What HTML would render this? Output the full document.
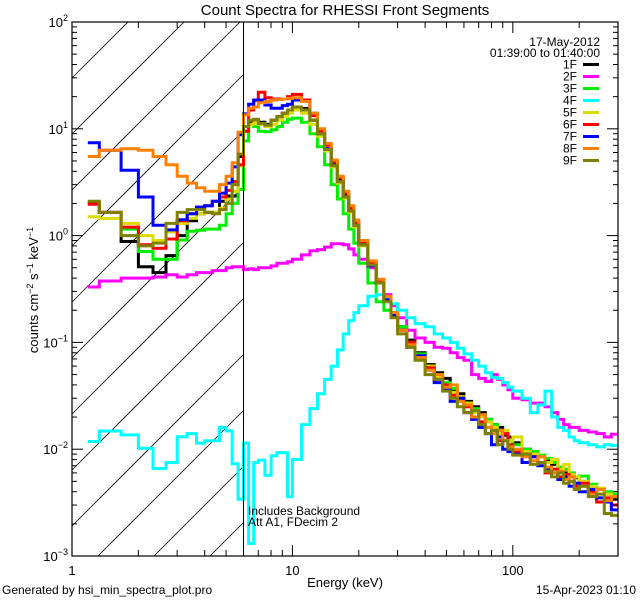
<!DOCTYPE html>
<html><head><meta charset="utf-8"><style>
html,body{margin:0;padding:0;width:640px;height:600px;overflow:hidden;background:#fff}
svg{display:block;font-family:"Liberation Sans",sans-serif}
</style></head><body>
<svg id="chart" width="640" height="600" viewBox="0 0 640 600">
<defs><clipPath id="plotclip"><rect x="72" y="22" width="546" height="534"/></clipPath></defs>
<rect x="0" y="0" width="640" height="600" fill="#fff"/>
<text x="345" y="15" text-anchor="middle" font-size="15">Count Spectra for RHESSI Front Segments</text>
<g id="hatch"></g>
<g id="series" clip-path="url(#plotclip)"></g>
<g id="axes"></g>
<text x="248" y="515" font-size="12">Includes Background</text>
<text x="248" y="526" font-size="12">Att A1, FDecim  2</text>
<text x="345" y="587" text-anchor="middle" font-size="13">Energy (keV)</text>
<text transform="translate(38,290) rotate(-90)" text-anchor="middle" font-size="13">counts cm<tspan dy="-5" font-size="9">−2</tspan><tspan dy="5"> s</tspan><tspan dy="-5" font-size="9">−1</tspan><tspan dy="5"> keV</tspan><tspan dy="-5" font-size="9">−1</tspan></text>
<text x="2" y="594" font-size="12">Generated by hsi_min_spectra_plot.pro</text>
<text x="636" y="594" text-anchor="end" font-size="12">15-Apr-2023 01:10</text>
<text x="600" y="46" text-anchor="end" font-size="12">17-May-2012</text>
<text x="600" y="57" text-anchor="end" font-size="12">01:39:00 to 01:40:00</text>
<g id="legend"></g>
</svg>
<script>
const edges=[1.18,1.33,1.67,2,2.33,2.67,3,3.33,3.67,4,4.33,4.67,5,5.33,5.67,6,6.33,6.67,7,7.5,8,8.5,9,9.5,10,11,12,13,14,15,16,17,18,19,20,22,24,26,28,30,33,36,40,44,48,52,56,60,65,70,75,80,85,90,95,100,110,120,130,140,150,160,170,180,190,200,220,240,260,280,300];
const seriesNames=["1F","2F","3F","4F","5F","6F","7F","8F","9F"];
const seriesColors=["#000000","#ff00ff","#00ee00","#00ffff","#dcdc00","#ff0000","#0000ff","#ff8000","#808000"];
const s1F=[2.03,1.65,0.88,0.51,0.45,0.65,1.0,1.38,1.6,1.65,1.65,2.1,2.35,2.35,5.5,10.5,11.4,12,11.5,11,12,13,14,15,16,15.5,12,9,6.5,4.6,3.3,2.4,1.75,1.3,0.85,0.55,0.38,0.26,0.19,0.14,0.105,0.08,0.062,0.052,0.046,0.036,0.033,0.028,0.025,0.022,0.019,0.017,0.016,0.0135,0.013,0.0115,0.01,0.0095,0.0086,0.0078,0.0072,0.0066,0.006,0.0058,0.0054,0.005,0.0046,0.0042,0.0038,0.0034];
const s2F=[0.33,0.376,0.4,0.4,0.41,0.43,0.41,0.43,0.45,0.45,0.47,0.47,0.5,0.51,0.51,0.48,0.49,0.48,0.5,0.5,0.52,0.55,0.55,0.57,0.6,0.66,0.72,0.74,0.78,0.84,0.84,0.82,0.75,0.66,0.6,0.5,0.38,0.28,0.22,0.17,0.13,0.11,0.1,0.09,0.088,0.08,0.072,0.068,0.05,0.046,0.043,0.05,0.045,0.04,0.036,0.03,0.029,0.027,0.027,0.025,0.022,0.019,0.017,0.016,0.016,0.015,0.0145,0.014,0.013,0.0138];
const s3F=[null,null,1.15,0.71,0.6,0.6,0.91,1.1,1.12,1.15,1.15,1.25,1.6,2.0,2.7,7.7,10.9,10.5,9.5,9.4,9.8,10.5,11.5,12.3,12.6,11.5,9,6.8,4.6,3.0,2.2,1.6,1.15,0.85,0.55,0.36,0.24,0.2,0.19,0.14,0.1,0.078,0.06,0.05,0.042,0.037,0.03,0.027,0.024,0.02,0.019,0.017,0.015,0.014,0.012,0.011,0.01,0.0095,0.0088,0.0082,0.0075,0.0068,0.0065,0.006,0.0055,0.0056,0.0047,0.0042,0.004,0.0038];
const s4F=[0.0118,0.0148,0.0136,0.0102,0.0066,0.0075,0.0131,0.014,0.0114,0.012,0.012,0.016,0.0148,0.0073,0.0034,0.0114,0.00131,0.0075,0.0079,0.0057,0.0087,0.0093,0.0093,0.0036,0.008,0.017,0.024,0.033,0.045,0.06,0.085,0.12,0.16,0.19,0.22,0.27,0.28,0.26,0.23,0.2,0.17,0.15,0.14,0.12,0.11,0.1,0.088,0.078,0.068,0.06,0.052,0.047,0.046,0.042,0.038,0.035,0.03,0.022,0.026,0.035,0.02,0.016,0.015,0.013,0.012,0.0115,0.011,0.0105,0.011,0.0108];
const s5F=[1.5,1.45,1.3,1.0,0.9,1.08,1.3,1.45,1.6,1.65,1.65,1.8,2.2,2.6,4.5,9.5,11,11.5,11,10.5,11,12,13,14,15,14,11,8.5,6.2,4.4,3.1,2.25,1.65,1.2,0.8,0.52,0.36,0.25,0.18,0.13,0.1,0.075,0.06,0.048,0.04,0.034,0.031,0.027,0.022,0.02,0.018,0.016,0.014,0.015,0.012,0.013,0.0095,0.009,0.0085,0.0075,0.008,0.0065,0.0072,0.0058,0.0055,0.005,0.0045,0.0043,0.0038,0.0036];
const s6F=[1.97,1.65,1.2,0.82,0.76,0.93,1.38,1.6,1.85,1.9,2.1,2.3,2.65,3.2,4.6,9.5,15,18.4,22,19.5,19,19,19,20,21,18.6,13.3,9.5,7,4.9,3.5,2.5,1.8,1.3,0.85,0.55,0.37,0.25,0.18,0.13,0.1,0.075,0.058,0.045,0.04,0.032,0.03,0.025,0.02,0.018,0.016,0.015,0.012,0.014,0.011,0.0095,0.009,0.0085,0.0075,0.006,0.0065,0.0055,0.0058,0.005,0.0045,0.0048,0.004,0.0032,0.0035,0.003];
const s7F=[7.4,6.3,4.1,2.3,1.25,1.13,1.41,1.6,1.85,1.9,2.1,2.5,3.1,4.4,8.8,13.8,17,18.6,18.6,16.7,15.6,15.6,16.5,17,18.6,18,14,9,6.5,4.6,3.2,2.3,1.7,1.25,0.82,0.52,0.36,0.25,0.18,0.13,0.09,0.075,0.055,0.042,0.036,0.028,0.03,0.022,0.019,0.016,0.014,0.011,0.013,0.01,0.0095,0.009,0.0075,0.0085,0.007,0.0065,0.006,0.0052,0.0055,0.0045,0.0048,0.004,0.0042,0.0035,0.0032,0.0027];
const s8F=[5.5,6.3,6.5,6.3,5.5,4.6,3.6,3.1,2.8,2.6,2.6,3.0,3.6,4.8,9.3,13.5,15.6,16,17.5,18,18.6,18.8,19,19.2,19.5,18,14,10,7.3,5.1,3.6,2.6,1.9,1.4,0.9,0.58,0.39,0.27,0.19,0.13,0.095,0.072,0.055,0.05,0.038,0.04,0.028,0.026,0.02,0.021,0.016,0.014,0.015,0.012,0.0105,0.01,0.0085,0.0078,0.0085,0.0068,0.006,0.0062,0.0052,0.0055,0.0042,0.0045,0.0038,0.0042,0.0033,0.0036];
const s9F=[2.1,1.65,1.0,0.8,0.85,1.3,1.65,1.75,1.75,1.65,1.6,1.75,2.0,3.0,5.8,10.5,12,12.3,11.2,10.8,12,13,14,15,16,15,12,9,6.4,4.5,3.2,2.3,1.7,1.25,0.82,0.53,0.36,0.24,0.17,0.12,0.09,0.068,0.05,0.045,0.035,0.03,0.025,0.022,0.023,0.017,0.014,0.015,0.011,0.012,0.01,0.0088,0.009,0.0072,0.0075,0.0062,0.0055,0.006,0.0048,0.005,0.0042,0.0045,0.0036,0.0038,0.0025,0.0024];
const xTickVals=[1,10,100];
const xTickLabels=["1","10","100"];
const yTickExps=[-3,-2,-1,0,1,2];

const NS="http://www.w3.org/2000/svg";
const L=72,R=618,T=22,B=556,XMIN=1,XMAX=300,YMIN=-3,YMAX=2;
function xs(e){return L+(Math.log10(e)-Math.log10(XMIN))/(Math.log10(XMAX)-Math.log10(XMIN))*(R-L);}
function ys(v){return T+(YMAX-Math.log10(v))/(YMAX-YMIN)*(B-T);}
function mk(tag,attrs,parent){const el=document.createElementNS(NS,tag);for(const k in attrs)el.setAttribute(k,attrs[k]);parent.appendChild(el);return el;}

const hatch=document.getElementById('hatch');
const HX1=244;
for(let k=-12;k<12;k++){
  const y0=410+56*k; // y at x=HX1; line y = y0 - (x-HX1)
  let xa=L, xb=HX1;
  // constrain y within [T,B]
  xa=Math.max(xa, HX1+y0-B); xb=Math.min(xb, HX1+y0-T);
  if(xb<=xa)continue;
  const el=mk('line',{x1:xa,y1:y0-(xa-HX1),x2:xb,y2:y0-(xb-HX1),stroke:'#000','stroke-width':0.8},hatch);
  
  
}
const seriesData=[s1F,s2F,s3F,s4F,s5F,s6F,s7F,s8F,s9F];
const sg=document.getElementById('series');
seriesData.forEach((vals,si)=>{
  let d="",prev=null;
  for(let i=0;i<vals.length;i++){
    const v=vals[i];
    if(v==null){prev=null;continue;}
    const x0=xs(edges[i]).toFixed(1),x1=xs(edges[i+1]).toFixed(1),y=ys(v).toFixed(1);
    if(prev==null)d+="M"+x0+" "+y;else d+="V"+y;
    d+="H"+x1;prev=v;
  }
  const p=mk('path',{d:d,fill:'none',stroke:seriesColors[si],'stroke-width':3,'stroke-linejoin':'miter'},sg);
  
  
});
const ax=document.getElementById('axes');
const frame=mk('rect',{x:L,y:T,width:R-L,height:B-T,fill:'none',stroke:'#000','stroke-width':1.2},ax);


const sixk=mk('line',{x1:xs(6),y1:T,x2:xs(6),y2:B,stroke:'#000','stroke-width':1},ax);


for(let dec=1;dec<=100;dec*=10){
  for(let m=1;m<=9;m++){
    const e=dec*m; if(e>XMAX)break;
    const x=xs(e),len=(m==1)?11:6;
    const t1=mk('line',{x1:x,y1:B,x2:x,y2:B-len,stroke:'#000','stroke-width':1},ax);
    
    
    const t2=mk('line',{x1:x,y1:T,x2:x,y2:T+len,stroke:'#000','stroke-width':1},ax);
    
    
  }
}
xTickVals.forEach((v,i)=>{
  const t=mk('text',{x:xs(v),y:B+19,'text-anchor':'middle','font-size':13},ax);
  t.textContent=xTickLabels[i];
  
  
});
yTickExps.forEach(ex=>{
  for(let m=1;m<=9;m++){
    const v=Math.pow(10,ex)*m; if(Math.log10(v)>YMAX+1e-9)break;
    const y=ys(v),len=(m==1)?11:5;
    const t1=mk('line',{x1:L,y1:y,x2:L+len,y2:y,stroke:'#000','stroke-width':1},ax);
    
    
    const t2=mk('line',{x1:R,y1:y,x2:R-len,y2:y,stroke:'#000','stroke-width':1},ax);
    
    
  }
  const t=mk('text',{x:68,y:ys(Math.pow(10,ex))+5,'text-anchor':'end','font-size':13},ax);
  
  
  const a=document.createElementNS(NS,'tspan');a.textContent="10";t.appendChild(a);
  const b=document.createElementNS(NS,'tspan');b.setAttribute('dy','-6');b.setAttribute('font-size','9');b.textContent=String(ex).replace('-','−');t.appendChild(b);
});
const lg=document.getElementById('legend');
seriesNames.forEach((n,i)=>{
  const y=64.5+12*i;
  const t=mk('text',{x:577,y:y+4,'text-anchor':'end','font-size':12},lg);
  t.textContent=n;
  
  
  const l=mk('line',{x1:583,y1:y,x2:599,y2:y,stroke:seriesColors[i],'stroke-width':3},lg);
  
  
});
</script>
</body></html>
